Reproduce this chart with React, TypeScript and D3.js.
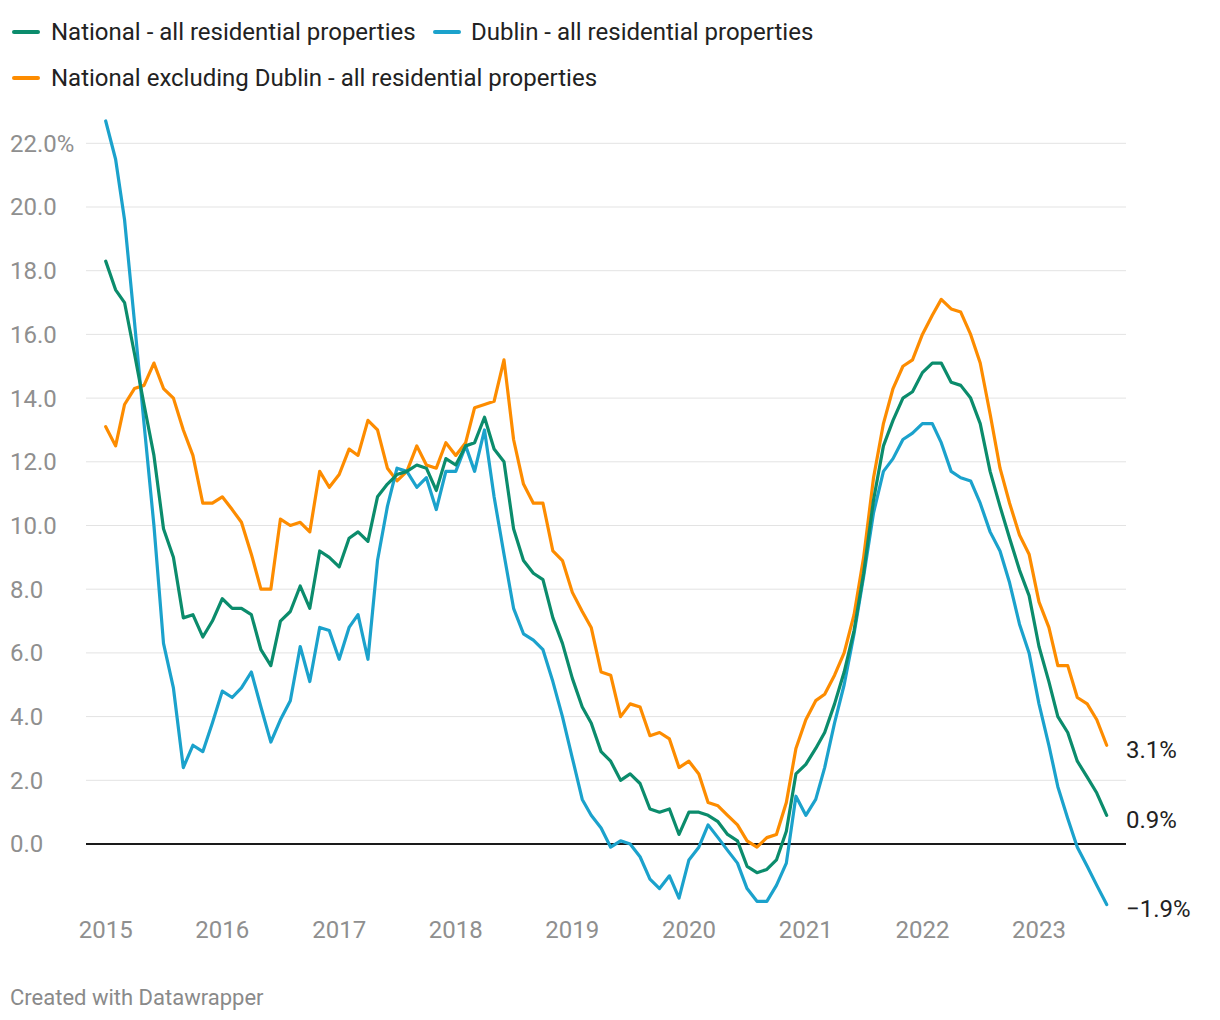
import React from "react";
import * as d3 from "d3";

const startMonth = "2015-01";
const yTicks = [0, 2, 4, 6, 8, 10, 12, 14, 16, 18, 20, 22];
const xTickYears = [2015, 2016, 2017, 2018, 2019, 2020, 2021, 2022, 2023];

const national = [
  18.3, 17.4, 17.0, 15.4, 13.8, 12.2, 9.9, 9.0, 7.1, 7.2, 6.5, 7.0,
  7.7, 7.4, 7.4, 7.2, 6.1, 5.6, 7.0, 7.3, 8.1, 7.4, 9.2, 9.0,
  8.7, 9.6, 9.8, 9.5, 10.9, 11.3, 11.6, 11.7, 11.9, 11.8, 11.1, 12.1,
  11.9, 12.5, 12.6, 13.4, 12.4, 12.0, 9.9, 8.9, 8.5, 8.3, 7.1, 6.3,
  5.2, 4.3, 3.8, 2.9, 2.6, 2.0, 2.2, 1.9, 1.1, 1.0, 1.1, 0.3,
  1.0, 1.0, 0.9, 0.7, 0.3, 0.1, -0.7, -0.9, -0.8, -0.5, 0.4, 2.2,
  2.5, 3.0, 3.5, 4.4, 5.4, 6.7, 8.5, 10.8, 12.5, 13.3, 14.0, 14.2,
  14.8, 15.1, 15.1, 14.5, 14.4, 14.0, 13.2, 11.7, 10.6, 9.6, 8.6, 7.8,
  6.2, 5.1, 4.0, 3.5, 2.6, 2.1, 1.6, 0.9,
];

const dublin = [
  22.7, 21.5, 19.6, 16.4, 13.2, 10.0, 6.3, 4.9, 2.4, 3.1, 2.9, 3.8,
  4.8, 4.6, 4.9, 5.4, 4.3, 3.2, 3.9, 4.5, 6.2, 5.1, 6.8, 6.7,
  5.8, 6.8, 7.2, 5.8, 8.9, 10.6, 11.8, 11.7, 11.2, 11.5, 10.5, 11.7,
  11.7, 12.5, 11.7, 13.0, 10.9, 9.1, 7.4, 6.6, 6.4, 6.1, 5.1, 4.0,
  2.7, 1.4, 0.9, 0.5, -0.1, 0.1, 0.0, -0.4, -1.1, -1.4, -1.0, -1.7,
  -0.5, -0.1, 0.6, 0.2, -0.2, -0.6, -1.4, -1.8, -1.8, -1.3, -0.6, 1.5,
  0.9, 1.4, 2.4, 3.8, 5.0, 6.6, 8.4, 10.4, 11.7, 12.1, 12.7, 12.9,
  13.2, 13.2, 12.6, 11.7, 11.5, 11.4, 10.7, 9.8, 9.2, 8.2, 6.9, 6.0,
  4.4, 3.1, 1.8, 0.8, -0.1, -0.7, -1.3, -1.9,
];

const exDublin = [
  13.1, 12.5, 13.8, 14.3, 14.4, 15.1, 14.3, 14.0, 13.0, 12.2, 10.7, 10.7,
  10.9, 10.5, 10.1, 9.1, 8.0, 8.0, 10.2, 10.0, 10.1, 9.8, 11.7, 11.2,
  11.6, 12.4, 12.2, 13.3, 13.0, 11.8, 11.4, 11.7, 12.5, 11.9, 11.8, 12.6,
  12.2, 12.6, 13.7, 13.8, 13.9, 15.2, 12.7, 11.3, 10.7, 10.7, 9.2, 8.9,
  7.9, 7.3, 6.8, 5.4, 5.3, 4.0, 4.4, 4.3, 3.4, 3.5, 3.3, 2.4,
  2.6, 2.2, 1.3, 1.2, 0.9, 0.6, 0.1, -0.1, 0.2, 0.3, 1.3, 3.0,
  3.9, 4.5, 4.7, 5.3, 6.0, 7.2, 9.0, 11.5, 13.2, 14.3, 15.0, 15.2,
  16.0, 16.6, 17.1, 16.8, 16.7, 16.0, 15.1, 13.5, 11.8, 10.7, 9.7, 9.1,
  7.6, 6.8, 5.6, 5.6, 4.6, 4.4, 3.9, 3.1,
];

const seriesNames = [
  "National - all residential properties",
  "Dublin - all residential properties",
  "National excluding Dublin - all residential properties",
];
const seriesColors = ["#0b8c6c", "#1ba2cc", "#fd8c00"];

const FONT = "Roboto, 'Noto Sans', sans-serif";

export default function App() {
  const width = 1220;
  const height = 1020;
  const parse = d3.timeParse("%Y-%m");
  const start = parse(startMonth) as Date;
  const months = national.map((_, i) => d3.timeMonth.offset(start, i));

  const x = d3
    .scaleTime()
    .domain([months[0], months[months.length - 1]])
    .range([105.7, 1106.7]);
  const y = d3.scaleLinear().domain([0, 22]).range([844, 143.3]);

  const allSeries = [national, dublin, exDublin];
  const line = d3
    .line<number>()
    .x((_, i) => x(months[i]))
    .y((d) => y(d));

  const fmt = d3.format(".1f");
  const gridX0 = 86;
  const gridX1 = 1126;

  const legendItems = [
    { sx: 12, tx: 51, ly: 32, idx: 0 },
    { sx: 433, tx: 471, ly: 32, idx: 1 },
    { sx: 12, tx: 51, ly: 78, idx: 2 },
  ];

  const drawOrder = [2, 1, 0];

  return (
    <svg
      width={width}
      height={height}
      style={{ position: "absolute", left: 0, top: 0, background: "#fff" }}
      fontFamily={FONT}
    >
      {legendItems.map((it) => (
        <g key={it.idx}>
          <line
            x1={it.sx + 2}
            x2={it.sx + 26}
            y1={it.ly}
            y2={it.ly}
            stroke={seriesColors[it.idx]}
            strokeWidth={4}
            strokeLinecap="round"
          />
          <text x={it.tx} y={it.ly} dy="0.35em" fontSize={24} fill="#222">
            {seriesNames[it.idx]}
          </text>
        </g>
      ))}

      {yTicks
        .filter((t) => t !== 0)
        .map((t) => (
          <line
            key={t}
            x1={gridX0}
            x2={gridX1}
            y1={y(t)}
            y2={y(t)}
            stroke="#e3e3e3"
            strokeWidth={1}
          />
        ))}
      {yTicks.map((t) => (
        <text
          key={"l" + t}
          x={10}
          y={y(t)}
          dy="0.35em"
          fontSize={24}
          fill="#8f8f8f"
        >
          {t === 22 ? fmt(t) + "%" : fmt(t)}
        </text>
      ))}

      {xTickYears.map((yr) => (
        <text
          key={yr}
          x={x(new Date(yr, 0, 1))}
          y={930}
          dy="0.35em"
          textAnchor="middle"
          fontSize={24}
          fill="#8f8f8f"
        >
          {yr}
        </text>
      ))}

      <line
        x1={gridX0}
        x2={gridX1}
        y1={y(0)}
        y2={y(0)}
        stroke="#1a1a1a"
        strokeWidth={2}
      />

      {drawOrder.map((si) => (
        <path
          key={si}
          d={line(allSeries[si]) || ""}
          fill="none"
          stroke={seriesColors[si]}
          strokeWidth={3.2}
          strokeLinejoin="round"
          strokeLinecap="round"
        />
      ))}

      {allSeries.map((s, si) => {
        const v = s[s.length - 1];
        return (
          <text
            key={"e" + si}
            x={1126}
            y={y(v) + 4}
            dy="0.35em"
            fontSize={24}
            fill="#222"
          >
            {fmt(v) + "%"}
          </text>
        );
      })}

      <text x={10} y={997} dy="0.35em" fontSize={22} fill="#8a8a8a">
        Created with Datawrapper
      </text>
    </svg>
  );
}
